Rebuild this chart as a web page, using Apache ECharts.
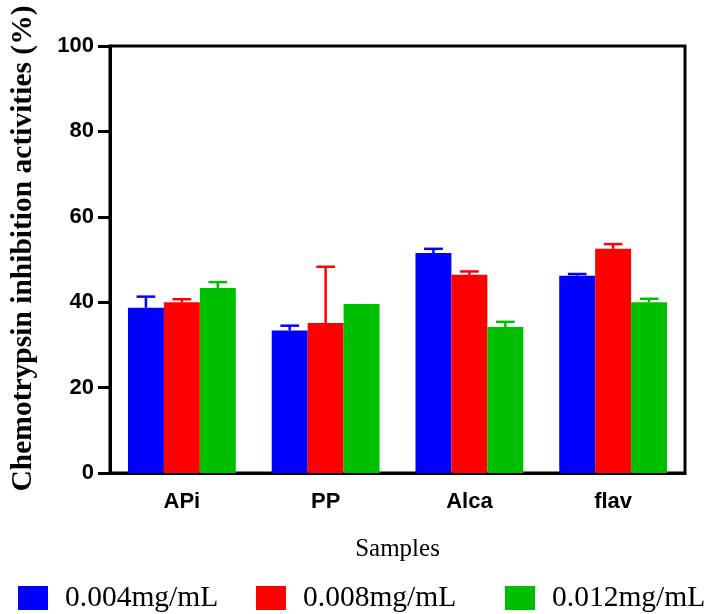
<!DOCTYPE html>
<html>
<head>
<meta charset="utf-8">
<script src="https://cdn.jsdelivr.net/npm/echarts@6/dist/echarts.min.js"></script>
<style>
html,body{margin:0;padding:0;background:#fff;}
#chart{width:705px;height:614px;}
</style>
</head>
<body>
<div id="chart"></div>
<script>
var categories = ['APi', 'PP', 'Alca', 'flav'];
var seriesNames = ['0.004mg/mL', '0.008mg/mL', '0.012mg/mL'];
var mean004 = [38.7, 33.4, 51.5, 46.2];
var err004  = [2.6, 1.1, 1.0, 0.4];
var mean008 = [40.0, 35.1, 46.4, 52.5];
var err008  = [0.7, 13.2, 0.8, 1.1];
var mean012 = [43.3, 39.6, 34.2, 40.0];
var err012  = [1.4, 0, 1.2, 0.8];
var yTicks = [0, 20, 40, 60, 80, 100];

var colors = ['#0000FF', '#FF0000', '#00BF00'];
var means = [mean004, mean008, mean012];
var errs = [err004, err008, err012];
var barFrac = 0.25;
var legendLefts = [13, 251, 500];

var chart = echarts.init(document.getElementById('chart'));

function errRender(s) {
  return function (params, api) {
    var idx = api.value(0), m = api.value(1), e = api.value(2);
    if (!e) return null;
    var band = api.size([1, 0])[0];
    var bw = band * barFrac;
    var p1 = api.coord([idx, m]);
    var p2 = api.coord([idx, m + e]);
    var x = p1[0] + (s - 1) * bw;
    var hw = bw * 0.26;
    var st = { stroke: colors[s], lineWidth: 2.5 };
    return {
      type: 'group',
      children: [
        { type: 'line', shape: { x1: x, y1: p1[1], x2: x, y2: p2[1] }, style: st },
        { type: 'line', shape: { x1: x - hw, y1: p2[1], x2: x + hw, y2: p2[1] }, style: st }
      ]
    };
  };
}

var series = [];
for (var s = 0; s < 3; s++) {
  series.push({
    name: seriesNames[s],
    type: 'bar',
    data: means[s],
    barWidth: (barFrac * 100) + '%',
    barGap: '0%',
    itemStyle: { color: colors[s] },
    z: 2
  });
}
for (var s2 = 0; s2 < 3; s2++) {
  series.push({
    type: 'custom',
    renderItem: errRender(s2),
    data: means[s2].map(function (m, i) { return [i, m, errs[s2][i]]; }),
    z: 3,
    silent: true
  });
}

var legends = seriesNames.map(function (n, i) {
  return {
    data: [n],
    left: legendLefts[i], top: 578,
    icon: 'rect',
    itemWidth: 30, itemHeight: 24,
    textStyle: { fontFamily: 'Liberation Serif', fontSize: 29.5, color: '#000', padding: [0, 0, 0, 12] }
  };
});

chart.setOption({
  animation: false,
  backgroundColor: '#fff',
  grid: {
    left: 109, top: 46, right: 20, bottom: 141,
    show: true, borderColor: '#000', borderWidth: 3, backgroundColor: 'transparent'
  },
  legend: legends,
  xAxis: {
    type: 'category',
    data: categories,
    name: 'Samples',
    nameLocation: 'middle',
    nameGap: 64,
    nameTextStyle: { fontFamily: 'Liberation Serif', fontSize: 25, color: '#000' },
    axisLine: { lineStyle: { color: '#000', width: 3 } },
    axisTick: { alignWithLabel: true, length: 11, lineStyle: { color: '#000', width: 3 } },
    axisLabel: { fontFamily: 'Liberation Sans', fontWeight: 'bold', fontSize: 22, color: '#000', margin: 18 }
  },
  yAxis: {
    type: 'value',
    min: yTicks[0], max: yTicks[yTicks.length - 1], interval: 20,
    name: 'Chemotrypsin inhibition activities (%)',
    nameLocation: 'middle',
    nameGap: 72,
    nameTextStyle: { fontFamily: 'Liberation Serif', fontWeight: 'bold', fontSize: 29.5, color: '#000', padding: [0, 0, 0, 22] },
    splitLine: { show: false },
    axisLine: { show: true, lineStyle: { color: '#000', width: 3 } },
    axisTick: { show: true, length: 12, lineStyle: { color: '#000', width: 3 } },
    axisLabel: { fontFamily: 'Liberation Sans', fontWeight: 'bold', fontSize: 22, color: '#000', margin: 16 }
  },
  series: series
});
</script>
</body>
</html>
